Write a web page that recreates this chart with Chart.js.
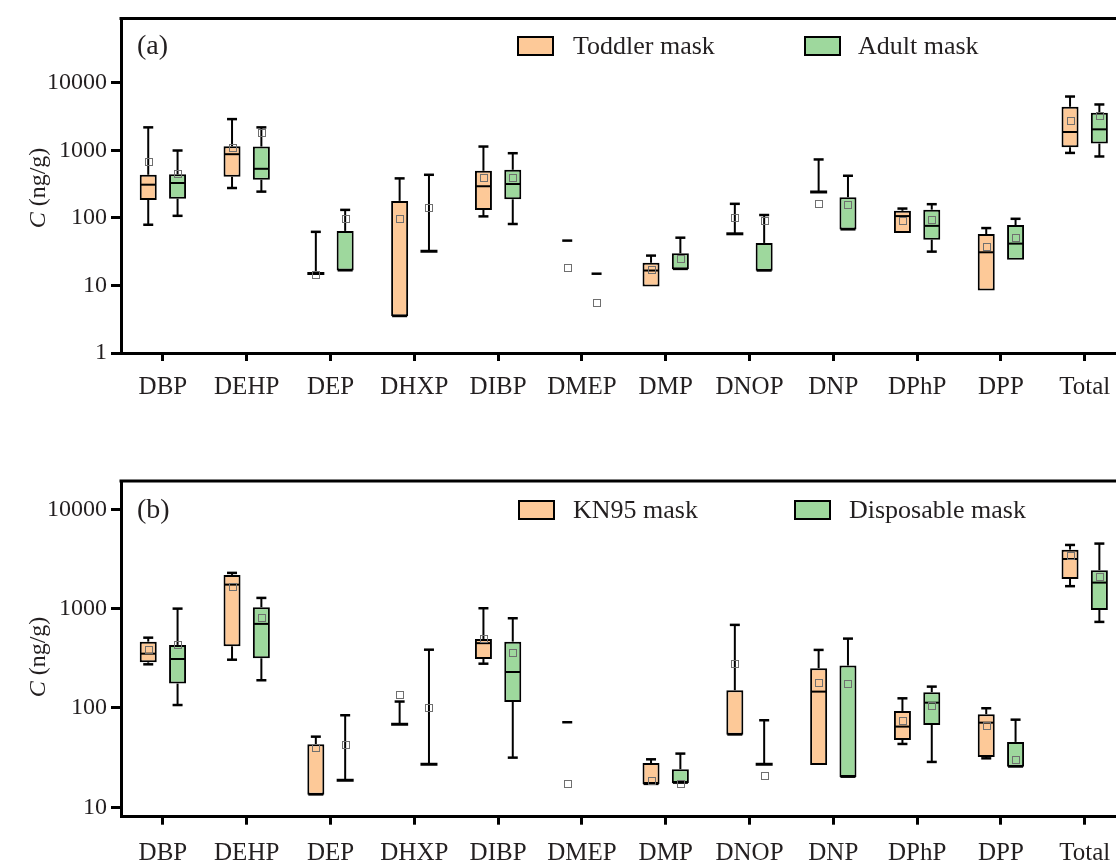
<!DOCTYPE html>
<html>
<head>
<meta charset="utf-8">
<script src="https://cdn.jsdelivr.net/npm/chart.js@4.4.1/dist/chart.umd.min.js"></script>
<style>
  html, body { margin: 0; padding: 0; background: #fff; overflow: hidden; }
  .panel { position: absolute; left: 0; }
  #wrapA { top: 0; }
  #wrapB { top: 430px; }
</style>
</head>
<body>
<div class="panel" id="wrapA"><canvas id="graficoA" width="1140" height="430"></canvas></div>
<div class="panel" id="wrapB"><canvas id="graficoB" width="1140" height="437"></canvas></div>
<script>
const categorias = ["DBP", "DEHP", "DEP", "DHXP", "DIBP", "DMEP", "DMP", "DNOP", "DNP", "DPhP", "DPP", "Total"];

// (a) Toddler mask
const toddlerMin   = [79, 276, 15, 3.5, 105, 46, 9.6, 58, 241, 59.6, 8.4, 912];
const toddlerQ1    = [184, 405, 15, 3.5, 131, null, 9.6, 58, 241, 59.6, 8.4, 1107];
const toddlerMed   = [309, 873, 15, 3.5, 293, null, 16.6, 58, 241, 106, 30.9, 1858];
const toddlerQ3    = [433, 1145, 15, 178, 496, null, 21.6, 58, 241, 127, 57.6, 4390];
const toddlerMax   = [2178, 2885, 62, 383, 1133, 46, 27.6, 161, 730, 137, 70.5, 6225];
const toddlerMedia = [689, 1107, 14.4, 99, 401, 18.4, 17, 102, 162, 90, 37.5, 2730];

// (a) Adult mask
const adultMin   = [107, 244, 16.6, 32, 81, 14.9, 17.4, 16.5, 67, 31.6, 23.9, 808];
const adultQ1    = [192, 366, 16.6, 32, 188, null, 17.4, 16.5, 67, 47.5, 23.9, 1254];
const adultMed   = [327, 531, 16.6, 32, 316, null, 17.4, 16.5, 67, 76, 41.5, 2036];
const adultQ3    = [440, 1133, 64, 32, 513, null, 29.9, 42.5, 202, 132, 78, 3584];
const adultMax   = [990, 2178, 131, 433, 903, 14.9, 50.8, 110, 419, 159, 96.7, 4750];
const adultMedia = [459, 1820, 99, 142, 397, 5.6, 24.9, 90, 155, 93.5, 50.8, 3305];

// (b) KN95 mask
const kn95Min   = [275, 306, 13.4, 68.5, 279, 71.8, 17.1, 53.8, 26.7, 43.4, 31.1, 1683];
const kn95Q1    = [288, 418, 13.4, 68.5, 311, null, 17.1, 53.8, 26.7, 47.6, 32.1, 1991];
const kn95Med   = [352, 1745, 13.4, 68.5, 449, null, 17.1, 53.8, 146, 64.9, 71.1, 3162];
const kn95Q3    = [465, 2185, 43, 68.5, 495, null, 27.9, 151, 251, 93.3, 86.5, 3926];
const kn95Max   = [510, 2290, 51.4, 116, 1009, 71.8, 30.4, 686, 384, 125, 99.3, 4375];
const kn95Media = [384, 1667, 40.2, 138, 499, 17.5, 18.4, 282, 180, 74.5, 66.4, 3418];

// (b) Disposable mask
const dispMin   = [107, 190, 18.7, 27.1, 31.6, null, 17.6, 27.1, 20.2, 28.6, 25.6, 735];
const dispQ1    = [176, 316, 18.7, 27.1, 115, null, 17.6, 27.1, 20.2, 67.5, 25.6, 970];
const dispMed   = [311, 702, 18.7, 27.1, 230, null, 17.6, 27.1, 20.2, 113, 25.6, 1828];
const dispQ3    = [431, 1033, 18.7, 27.1, 465, null, 24.2, 27.1, 267, 144, 45.5, 2439];
const dispMax   = [1000, 1282, 84.4, 386, 800, null, 34.7, 75.2, 499, 164, 76.2, 4517];
const dispMedia = [438, 805, 43, 102, 364, null, 17.5, 21, 177, 106, 30.6, 2118];

const seriesA = ["Toddler mask", "Adult mask"];
const seriesB = ["KN95 mask", "Disposable mask"];
const yTicksA = [1, 10, 100, 1000, 10000];
const yTicksB = [10, 100, 1000, 10000];

const colores = ["#FDC998", "#9ED89D"];
const fuente = "Liberation Serif, Times New Roman, serif";
const colorTexto = "#231F20";

function pluginCajas(cfg) {
  return {
    id: "cajas",
    afterDatasetsDraw(chart) {
      const ctx = chart.ctx;
      const y = chart.scales.y;
      const linea = (x1, y1, x2, y2, lw) => {
        ctx.lineWidth = lw;
        ctx.beginPath();
        ctx.moveTo(x1, y1);
        ctx.lineTo(x2, y2);
        ctx.stroke();
      };
      ctx.save();
      cfg.series.forEach((s, d) => {
        chart.getDatasetMeta(d).data.forEach((bar, i) => {
          const x = bar.x;
          const w = bar.width;
          const cap = 5;
          ctx.strokeStyle = "#000";
          if (s.max[i] != null) {
            const pMax = y.getPixelForValue(s.max[i]);
            const pMin = y.getPixelForValue(s.min[i]);
            if (s.q1[i] == null) {
              linea(x - cap, pMax, x + cap, pMax, 2.5);
            } else {
              const pQ1 = y.getPixelForValue(s.q1[i]);
              const pQ3 = y.getPixelForValue(s.q3[i]);
              if (s.max[i] > s.q3[i]) {
                linea(x, pQ3, x, pMax, 2);
                linea(x - cap, pMax, x + cap, pMax, 2.5);
              }
              if (s.min[i] < s.q1[i]) {
                linea(x, pQ1, x, pMin, 2);
                linea(x - cap, pMin, x + cap, pMin, 2.5);
              }
              if (s.q1[i] === s.q3[i]) {
                linea(x - w / 2, pQ1, x + w / 2, pQ1, 3);
              } else if (s.med[i] != null) {
                const pMed = y.getPixelForValue(s.med[i]);
                linea(x - w / 2 + 1, pMed, x + w / 2 - 1, pMed, 2);
              }
            }
          }
          if (s.media[i] != null) {
            const pM = y.getPixelForValue(s.media[i]);
            ctx.strokeStyle = "#6f6f6f";
            ctx.lineWidth = 1;
            ctx.strokeRect(Math.round(x - 3.5) + 0.5, Math.round(pM - 3.5) + 0.5, 7, 7);
          }
        });
      });
      ctx.restore();
    },
    afterDraw(chart) {
      const ctx = chart.ctx;
      const area = chart.chartArea;
      ctx.save();
      // marco superior y derecho
      ctx.strokeStyle = "#000";
      ctx.lineWidth = 3;
      ctx.beginPath();
      ctx.moveTo(area.left - 1.5, area.top);
      ctx.lineTo(area.right, area.top);
      ctx.lineTo(area.right, area.bottom);
      ctx.stroke();

      // leyenda
      ctx.font = "26px " + fuente;
      ctx.textBaseline = "middle";
      ctx.textAlign = "left";
      cfg.nombres.forEach((nombre, k) => {
        ctx.fillStyle = colores[k];
        ctx.fillRect(cfg.leyenda.cajas[k], cfg.leyenda.y - 9, 35, 18);
        ctx.strokeStyle = "#000";
        ctx.lineWidth = 2;
        ctx.strokeRect(cfg.leyenda.cajas[k], cfg.leyenda.y - 9, 35, 18);
        ctx.fillStyle = colorTexto;
        ctx.fillText(nombre, cfg.leyenda.textos[k], cfg.leyenda.y + 1);
      });

      // etiqueta del panel
      ctx.font = "28px " + fuente;
      ctx.fillText(cfg.etiqueta, area.left + 16, cfg.leyenda.y + 1);

      // titulo del eje y
      ctx.translate(39, cfg.tituloY);
      ctx.rotate(-Math.PI / 2);
      const fC = "italic 24px " + fuente;
      const fR = "24px " + fuente;
      ctx.font = fC;
      const wC = ctx.measureText("C").width;
      ctx.font = fR;
      const wR = ctx.measureText(" (ng/g)").width;
      const x0 = -(wC + wR) / 2;
      ctx.font = fC;
      ctx.fillText("C", x0, 0);
      ctx.font = fR;
      ctx.fillText(" (ng/g)", x0 + wC, 0);
      ctx.restore();
    },
  };
}

function crearGrafico(idCanvas, cfg) {
  const ctx = document.getElementById(idCanvas).getContext("2d");
  return new Chart(ctx, {
    type: "bar",
    data: {
      labels: categorias,
      datasets: cfg.series.map((s, k) => ({
        label: cfg.nombres[k],
        data: s.q1.map((v, i) => (v == null ? null : [v, s.q3[i]])),
        backgroundColor: colores[k],
        borderColor: "#000",
        borderWidth: 2,
        borderSkipped: false,
        categoryPercentage: 0.7,
        barPercentage: 0.58,
      })),
    },
    options: {
      responsive: false,
      animation: false,
      devicePixelRatio: 1,
      layout: { padding: { top: cfg.arriba, right: 13.4, left: 0, bottom: 0 } },
      plugins: { legend: { display: false }, tooltip: { enabled: false } },
      scales: {
        x: {
          type: "category",
          offset: true,
          grid: { display: true, drawOnChartArea: false, offset: false, tickLength: 8, tickWidth: 3, tickColor: "#000" },
          border: { display: true, color: "#000", width: 3 },
          ticks: { font: { family: fuente, size: 25 }, color: colorTexto, padding: cfg.padX, maxRotation: 0, autoSkip: false },
          afterFit: (s) => { s.height = cfg.altoX; },
        },
        y: {
          type: "logarithmic",
          min: cfg.yMin,
          max: cfg.yMax,
          afterBuildTicks: (s) => { s.ticks = cfg.yTicks.map((v) => ({ value: v })); },
          grid: { display: true, drawOnChartArea: false, tickLength: 10, tickWidth: 3, tickColor: "#000" },
          border: { display: true, color: "#000", width: 3 },
          ticks: { font: { family: fuente, size: 24 }, color: colorTexto, padding: 4, callback: (v) => String(v) },
          afterFit: (s) => { s.width = 121; },
        },
      },
    },
    plugins: [pluginCajas(cfg)],
  });
}

crearGrafico("graficoA", {
  nombres: seriesA,
  etiqueta: "(a)",
  series: [
    { min: toddlerMin, q1: toddlerQ1, med: toddlerMed, q3: toddlerQ3, max: toddlerMax, media: toddlerMedia },
    { min: adultMin, q1: adultQ1, med: adultMed, q3: adultQ3, max: adultMax, media: adultMedia },
  ],
  yTicks: yTicksA,
  yMin: 1,
  yMax: Math.pow(10, 4.95),
  arriba: 16,
  altoX: 77,
  padX: 11,
  tituloY: 188,
  leyenda: { y: 46, cajas: [518, 805], textos: [573, 858] },
});

crearGrafico("graficoB", {
  nombres: seriesB,
  etiqueta: "(b)",
  series: [
    { min: kn95Min, q1: kn95Q1, med: kn95Med, q3: kn95Q3, max: kn95Max, media: kn95Media },
    { min: dispMin, q1: dispQ1, med: dispMed, q3: dispQ3, max: dispMax, media: dispMedia },
  ],
  yTicks: yTicksB,
  yMin: Math.pow(10, 0.905),
  yMax: Math.pow(10, 4.285),
  arriba: 51,
  altoX: 50.3,
  padX: 14,
  tituloY: 227,
  leyenda: { y: 80, cajas: [519, 795], textos: [573, 849] },
});
</script>
</body>
</html>
